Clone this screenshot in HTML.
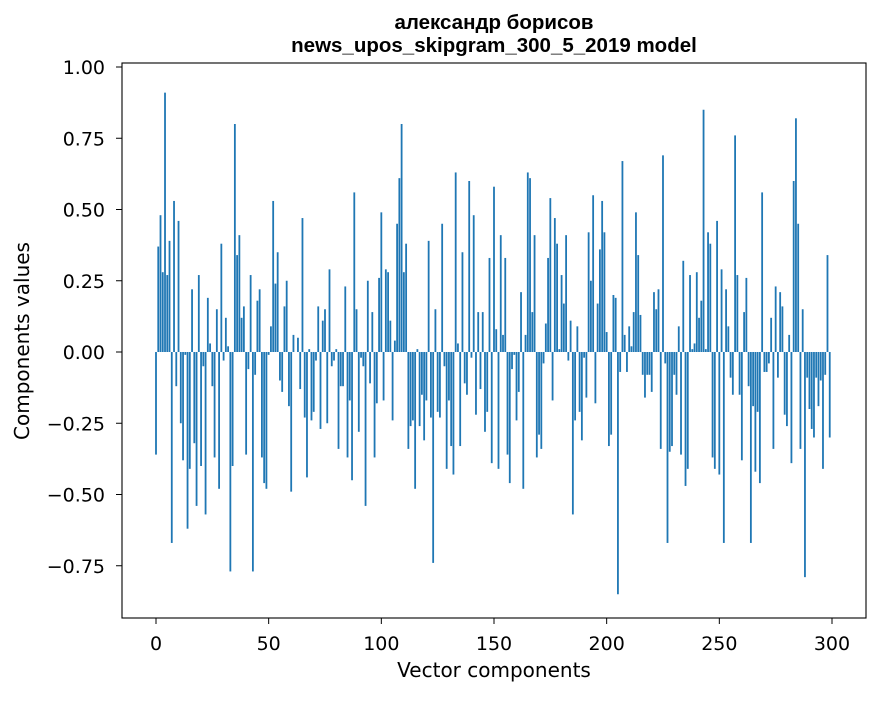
<!DOCTYPE html>
<html><head><meta charset="utf-8"><style>
body{margin:0;background:#fff;}
svg text{font-family:"DejaVu Sans","Liberation Sans",sans-serif;fill:#000;}
svg text.title{font-family:"Liberation Sans","DejaVu Sans",sans-serif;}
</style></head><body>
<svg id="chart" width="880" height="696" xmlns="http://www.w3.org/2000/svg">
<rect width="880" height="696" fill="#fff"/>
<text class="title" x="494" y="29" text-anchor="middle" font-size="20.5" font-weight="bold">александр борисов</text>
<text class="title" x="494" y="52" text-anchor="middle" font-size="20.5" font-weight="bold">news_upos_skipgram_300_5_2019 model</text>
<g id="bars"></g>
<rect x="122" y="63" width="744" height="555" fill="none" stroke="#000" stroke-width="1.1"/>
<g id="xticks"></g>
<g id="yticks"></g>
<text x="494" y="677" text-anchor="middle" font-size="20">Vector components</text>
<text transform="translate(29,341) rotate(-90)" text-anchor="middle" font-size="20">Components values</text>
</svg>
<script>
const values = [
-0.36,0.37,0.48,0.28,0.91,0.27,0.39,-0.67,0.53,-0.12,
0.46,-0.25,-0.38,-0.01,-0.62,-0.41,0.22,-0.32,-0.54,0.27,
-0.40,-0.05,-0.57,0.19,0.03,-0.12,-0.37,0.15,-0.48,0.38,
-0.03,0.12,0.02,-0.77,-0.40,0.80,0.34,0.41,0.12,0.16,
-0.36,-0.06,0.27,-0.77,-0.08,0.18,0.22,-0.37,-0.46,-0.48,
-0.01,0.09,0.53,0.24,0.35,-0.10,-0.14,0.16,0.25,-0.19,
-0.49,0.06,0.0,0.05,-0.13,0.47,-0.23,-0.44,0.01,-0.24,
-0.21,-0.03,0.16,-0.27,0.11,0.15,-0.25,0.29,-0.05,-0.03,
0.01,-0.34,-0.12,-0.12,0.23,-0.37,-0.17,-0.45,0.56,0.15,
-0.28,-0.02,-0.05,-0.54,0.25,-0.11,0.14,-0.37,-0.18,0.26,
0.49,-0.17,0.29,0.28,0.11,-0.24,0.04,0.45,0.61,0.80,
0.28,0.38,-0.34,-0.26,-0.24,-0.48,0.01,-0.26,-0.15,-0.31,
-0.17,0.39,-0.23,-0.74,0.15,-0.21,-0.23,0.45,-0.05,-0.41,
-0.17,-0.33,-0.43,0.63,0.03,-0.33,0.35,-0.11,-0.15,0.60,
-0.02,0.48,-0.22,0.14,-0.13,0.14,-0.28,-0.21,0.33,-0.39,
0.58,0.08,-0.41,0.41,0.06,0.33,-0.36,-0.46,-0.06,-0.01,
-0.24,-0.14,0.21,-0.48,0.06,0.63,0.61,0.14,0.41,-0.37,
-0.29,-0.34,-0.04,0.10,0.33,0.54,-0.17,0.47,0.38,0.01,
0.27,0.17,0.41,-0.03,0.11,-0.57,-0.24,0.09,-0.21,-0.31,
-0.02,-0.16,0.42,0.25,0.55,-0.18,0.17,0.36,0.53,0.42,
0.07,-0.33,-0.29,0.20,0.19,-0.85,-0.07,0.67,0.06,-0.07,
0.09,0.02,0.14,0.49,0.34,0.13,-0.08,-0.16,-0.08,-0.08,
-0.14,0.21,0.15,0.22,-0.34,0.69,-0.04,-0.67,-0.35,-0.33,
-0.08,-0.15,0.09,-0.36,0.32,-0.47,-0.41,0.27,0.01,0.03,
0.28,0.12,0.18,0.85,0.01,0.42,0.38,-0.37,-0.41,0.46,
-0.43,0.29,-0.67,0.22,0.09,-0.09,-0.15,0.76,0.27,-0.15,
-0.38,0.14,0.26,-0.12,-0.67,-0.19,-0.42,-0.21,-0.46,0.56,
-0.07,-0.07,-0.04,0.12,-0.34,0.23,-0.09,0.21,0.16,-0.22,
-0.26,0.06,-0.39,0.60,0.82,0.45,-0.34,0.15,-0.79,-0.09,
-0.20,-0.27,-0.30,-0.09,-0.19,-0.10,-0.41,-0.08,0.34,-0.30
];
const xTicks = [0,50,100,150,200,250,300];
const yTicks = [1.00,0.75,0.50,0.25,0.00,-0.25,-0.50,-0.75];
const yTickLabels = ["1.00","0.75","0.50","0.25","0.00","\u22120.25","\u22120.50","\u22120.75"];

const NS = "http://www.w3.org/2000/svg";
const X = v => 156 + 2.2533*v;
const Y = v => 352 - 285*v;
const bw = 0.8*2.2533;
const gb = document.getElementById('bars');
values.forEach((v,i)=>{
  const r = document.createElementNS(NS,'rect');
  r.setAttribute('x', X(i)-bw/2);
  r.setAttribute('y', Math.min(Y(v),Y(0)));
  r.setAttribute('width', bw);
  r.setAttribute('height', Math.abs(Y(v)-Y(0)));
  r.setAttribute('fill', '#1f77b4');
  
  
  gb.appendChild(r);
});
const gx = document.getElementById('xticks');
xTicks.forEach(t=>{
  const l = document.createElementNS(NS,'line');
  l.setAttribute('x1',X(t));l.setAttribute('x2',X(t));
  l.setAttribute('y1',618);l.setAttribute('y2',624);
  l.setAttribute('stroke','#000');
  
  
  gx.appendChild(l);
  const tx = document.createElementNS(NS,'text');
  tx.setAttribute('x',X(t));tx.setAttribute('y',650);
  tx.setAttribute('text-anchor','middle');tx.setAttribute('font-size','19');
  tx.textContent = t;
  
  
  gx.appendChild(tx);
});
const gy = document.getElementById('yticks');
yTicks.forEach((t,i)=>{
  const l = document.createElementNS(NS,'line');
  l.setAttribute('x1',116);l.setAttribute('x2',122);
  l.setAttribute('y1',Y(t));l.setAttribute('y2',Y(t));
  l.setAttribute('stroke','#000');
  
  
  gy.appendChild(l);
  const tx = document.createElementNS(NS,'text');
  tx.setAttribute('x',105);tx.setAttribute('y',Y(t)+7);
  tx.setAttribute('text-anchor','end');tx.setAttribute('font-size','19');
  tx.textContent = yTickLabels[i];
  
  
  gy.appendChild(tx);
});
</script>
</body></html>
